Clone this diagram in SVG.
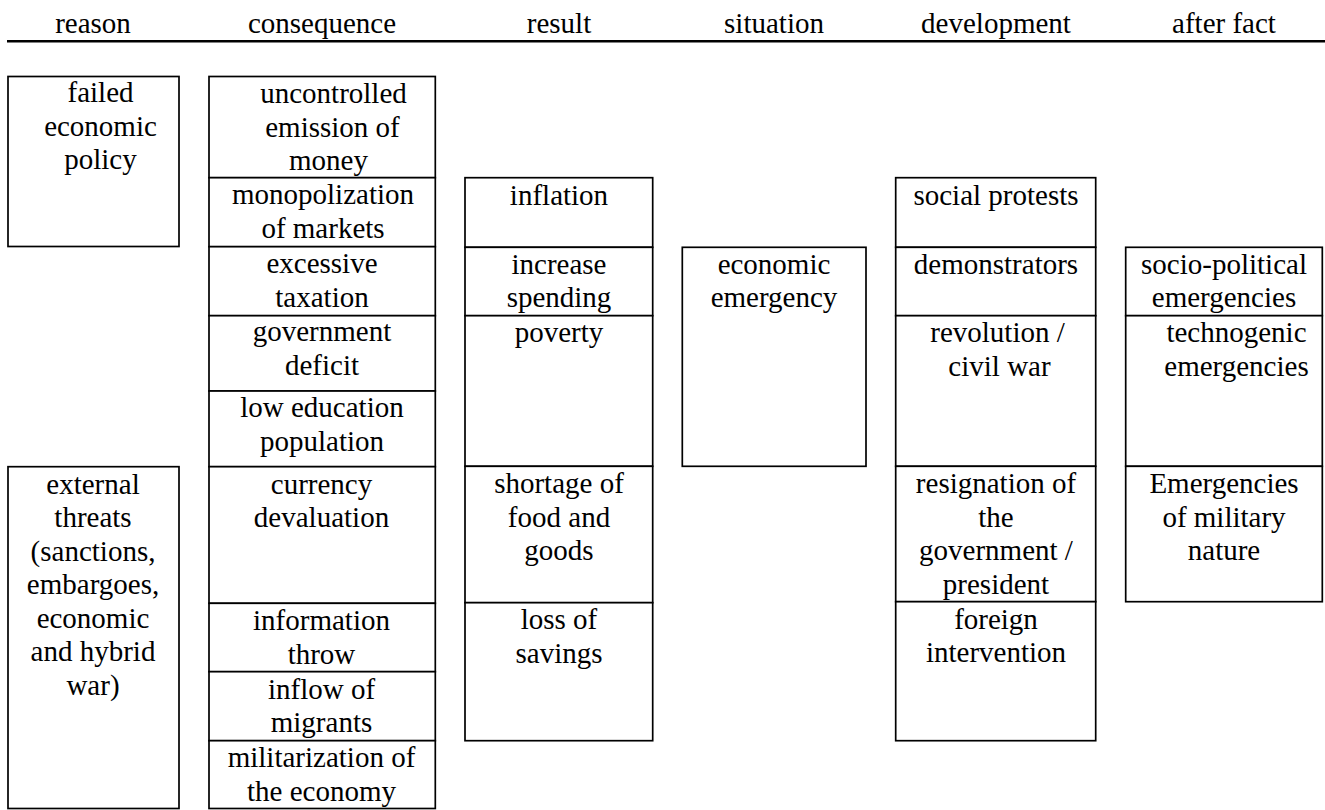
<svg xmlns="http://www.w3.org/2000/svg" width="1325" height="810" viewBox="0 0 1325 810">
<style>
rect{fill:#fff;stroke:#000;stroke-width:1.7}
text{font-family:"Liberation Serif","Times New Roman",serif;font-size:29px;fill:#000;text-anchor:middle}
.hl{stroke:#000;stroke-width:2.4}
.bg{stroke:none}
</style>
<rect class="bg" x="0" y="0" width="1325" height="810"/>
<g id="header">
<text x="93" y="33">reason</text>
<text x="322" y="33">consequence</text>
<text x="559" y="33">result</text>
<text x="774" y="33">situation</text>
<text x="996" y="33">development</text>
<text x="1224" y="33">after fact</text>
<line class="hl" x1="7" y1="41.3" x2="1325" y2="41.3"/>
</g>
<g id="connectors"></g>
<g id="reason-failed"><rect x="8" y="76.5" width="171" height="170"/><text x="100.5" y="102">failed</text><text x="100.5" y="135.5">economic</text><text x="100.5" y="169">policy</text></g>
<g id="reason-external"><rect x="8" y="466.7" width="171" height="341.8"/><text x="93" y="493.5">external</text><text x="93" y="527">threats</text><text x="93" y="560.5">(sanctions,</text><text x="93" y="594">embargoes,</text><text x="93" y="627.5">economic</text><text x="93" y="661">and hybrid</text><text x="93" y="694.5">war)</text></g>
<g id="cons-1"><rect x="209" y="76.5" width="226.3" height="101.2"/><text x="333.5" y="103">uncontrolled</text><text x="332.5" y="136.5">emission of</text><text x="328.5" y="170">money</text></g>
<g id="cons-2"><rect x="209" y="177.7" width="226.3" height="69"/><text x="323" y="204">monopolization</text><text x="323" y="237.5">of markets</text></g>
<g id="cons-3"><rect x="209" y="246.7" width="226.3" height="69"/><text x="322" y="273">excessive</text><text x="322" y="306.5">taxation</text></g>
<g id="cons-4"><rect x="209" y="315.7" width="226.3" height="75.3"/><text x="322" y="341">government</text><text x="322" y="374.5">deficit</text></g>
<g id="cons-5"><rect x="209" y="391" width="226.3" height="75.7"/><text x="322" y="417">low education</text><text x="322" y="450.5">population</text></g>
<g id="cons-6"><rect x="209" y="466.7" width="226.3" height="136.6"/><text x="321.5" y="493.5">currency</text><text x="321.5" y="527">devaluation</text></g>
<g id="cons-7"><rect x="209" y="603.3" width="226.3" height="68.4"/><text x="321.5" y="630">information</text><text x="321.5" y="663.5">throw</text></g>
<g id="cons-8"><rect x="209" y="671.7" width="226.3" height="69"/><text x="321.5" y="698.5">inflow of</text><text x="321.5" y="732">migrants</text></g>
<g id="cons-9"><rect x="209" y="740.7" width="226.3" height="67.8"/><text x="321.5" y="767">militarization of</text><text x="321.5" y="800.5">the economy</text></g>
<g id="res-1"><rect x="465" y="177.7" width="187.7" height="69.6"/><text x="559" y="205">inflation</text></g>
<g id="res-2"><rect x="465" y="247.3" width="187.7" height="68.4"/><text x="559" y="273.5">increase</text><text x="559" y="307">spending</text></g>
<g id="res-3"><rect x="465" y="315.7" width="187.7" height="150.6"/><text x="559" y="342">poverty</text></g>
<g id="res-4"><rect x="465" y="466.3" width="187.7" height="136.4"/><text x="559" y="493">shortage of</text><text x="559" y="526.5">food and</text><text x="559" y="560">goods</text></g>
<g id="res-5"><rect x="465" y="602.7" width="187.7" height="138"/><text x="559" y="629">loss of</text><text x="559" y="662.5">savings</text></g>
<g id="situation"><rect x="682.3" y="247.3" width="183.7" height="219"/><text x="774" y="273.5">economic</text><text x="774" y="307">emergency</text></g>
<g id="dev-1"><rect x="895.7" y="177.7" width="200" height="69.6"/><text x="996" y="205">social protests</text></g>
<g id="dev-2"><rect x="895.7" y="247.3" width="200" height="68.4"/><text x="996" y="273.5">demonstrators</text></g>
<g id="dev-3"><rect x="895.7" y="315.7" width="200" height="150.6"/><text x="997.5" y="342">revolution /</text><text x="999.5" y="375.5">civil war</text></g>
<g id="dev-4"><rect x="895.7" y="466.3" width="200" height="135.4"/><text x="996" y="493">resignation of</text><text x="996" y="526.5">the</text><text x="996" y="560">government /</text><text x="996" y="593.5">president</text></g>
<g id="dev-5"><rect x="895.7" y="601.7" width="200" height="139"/><text x="996" y="628.5">foreign</text><text x="996" y="662">intervention</text></g>
<g id="after-1"><rect x="1125.7" y="247.3" width="196.6" height="68.4"/><text x="1224" y="273.5">socio-political</text><text x="1224" y="307">emergencies</text></g>
<g id="after-2"><rect x="1125.7" y="315.7" width="196.6" height="150.6"/><text x="1236.5" y="342">technogenic</text><text x="1236.5" y="375.5">emergencies</text></g>
<g id="after-3"><rect x="1125.7" y="466.3" width="196.6" height="135.4"/><text x="1224" y="493">Emergencies</text><text x="1224" y="526.5">of military</text><text x="1224" y="560">nature</text></g>
</svg>
